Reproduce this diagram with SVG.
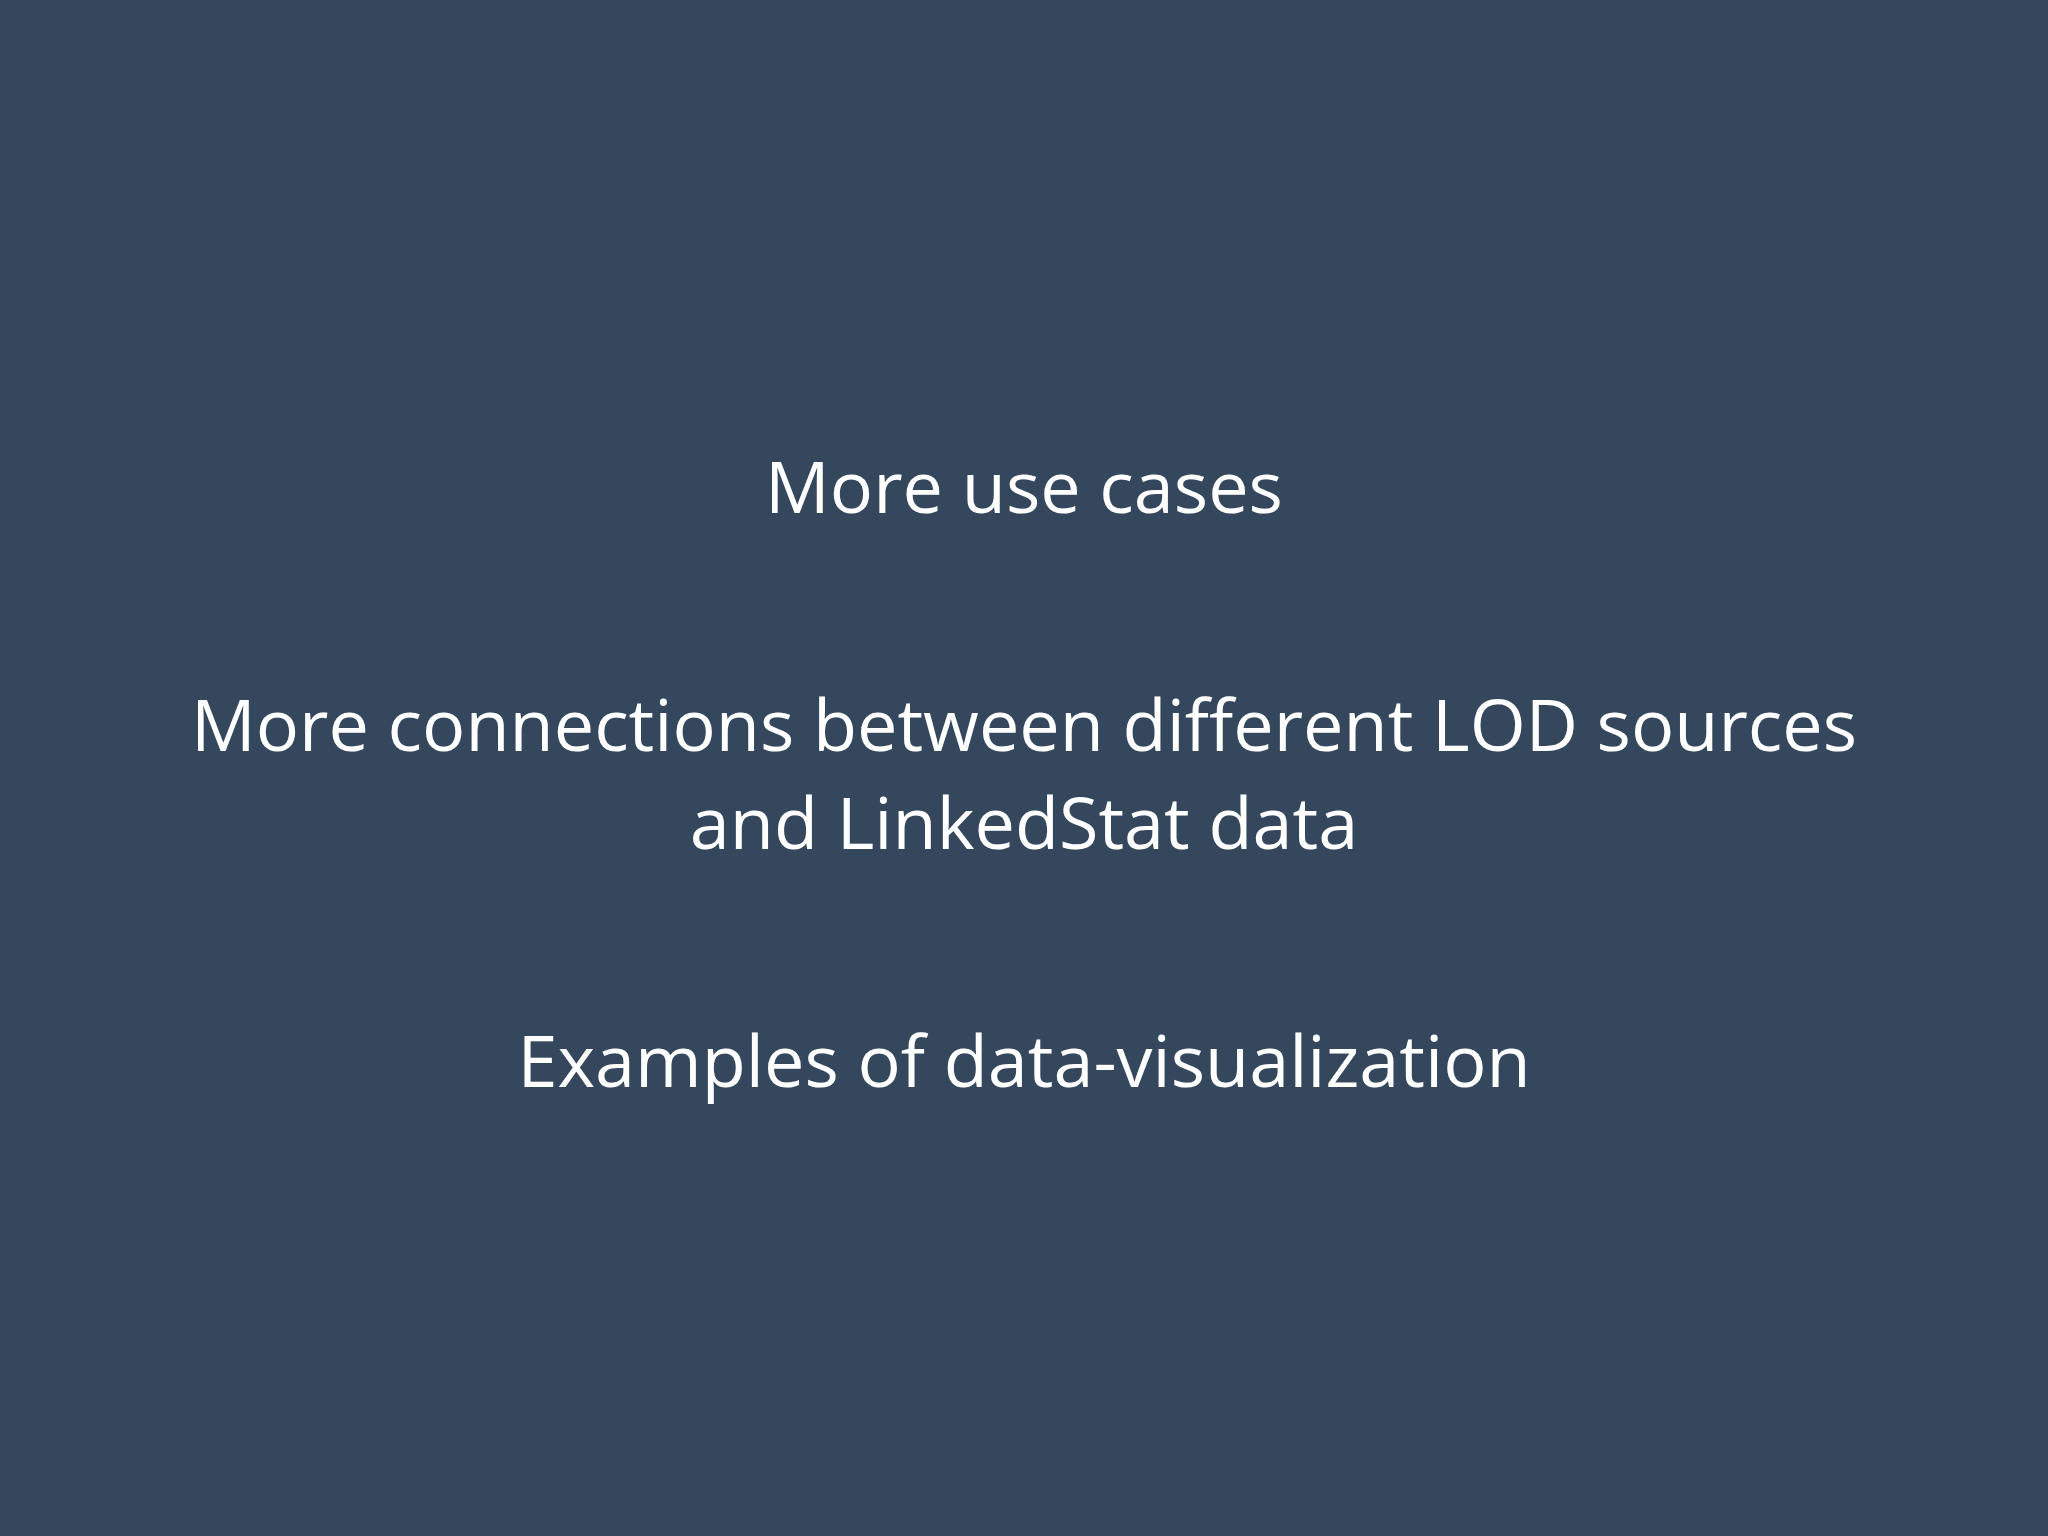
<svg xmlns="http://www.w3.org/2000/svg" width="2048" height="1536" viewBox="0 0 2048 1536">
<style>.t{font-family:"Open Sans","Noto Sans",sans-serif;font-size:72px;fill:#ffffff;text-anchor:middle}</style>
<rect width="2048" height="1536" fill="#34475c"/>
<g id="line1"><text class="t" x="1024" y="513">More use cases</text></g>
<g id="line2"><text class="t" x="1024" y="751">More connections between different LOD sources</text>
<text class="t" x="1024" y="849">and LinkedStat data</text></g>
<g id="line3"><text class="t" x="1024" y="1087">Examples of data-visualization</text></g>
</svg>
